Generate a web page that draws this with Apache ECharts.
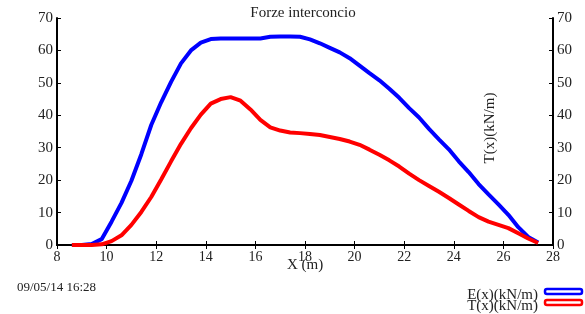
<!DOCTYPE html>
<html>
<head>
<meta charset="utf-8">
<script src="https://cdn.jsdelivr.net/npm/echarts@6/dist/echarts.min.js"></script>
<style>
  html, body { margin: 0; padding: 0; background: #fff; }
  #chart { width: 585px; height: 314px; }
</style>
</head>
<body>
<div id="chart"></div>
<script>
// positions along the wall (m)
const xs = [8.6, 9.0, 9.4, 9.8, 10.2, 10.6, 11.0, 11.4, 11.8, 12.2, 12.6, 13.0, 13.4, 13.8,
  14.2, 14.6, 15.0, 15.4, 15.8, 16.2, 16.6, 17.0, 17.4, 17.8, 18.2, 18.6, 19.0, 19.4,
  19.8, 20.2, 20.6, 21.0, 21.4, 21.8, 22.2, 22.6, 23.0, 23.4, 23.8, 24.2, 24.6, 25.0,
  25.4, 25.8, 26.2, 26.6, 27.0, 27.4]

// E(x) kN/m
const eVals = [0, 0, 0.3, 1.8, 7.2, 13, 19.8, 28, 37, 44, 50.3, 56, 60, 62.4,
  63.5, 63.7, 63.7, 63.7, 63.7, 63.7, 64.2, 64.3, 64.3, 64.2, 63.4, 62.2, 60.8, 59.4,
  57.6, 55.3, 53, 50.8, 48.2, 45.4, 42.2, 39.3, 35.8, 32.6, 29.5, 25.8, 22.5, 18.8,
  15.6, 12.5, 9.3, 5.5, 2.5, 0.8]

// T(x) kN/m
const tVals = [0, 0, 0, 0.2, 1.2, 3, 6.2, 10.2, 14.8, 20.2, 25.8, 31.2, 36, 40.2,
  43.6, 45, 45.6, 44.5, 41.8, 38.6, 36.3, 35.3, 34.7, 34.5, 34.2, 33.9, 33.3, 32.7,
  31.9, 30.9, 29.4, 27.8, 26.1, 24.2, 22, 20, 18.2, 16.4, 14.5, 12.5, 10.5, 8.6,
  7.2, 6.2, 5.2, 3.6, 2, 0.6]

const xTicks = { min: 8, max: 28, step: 2 }
const yTicks = { min: 0, max: 70, step: 10 }

const serif = 'Liberation Serif'

const chart = echarts.init(document.getElementById('chart'))

const axisLine = { show: true, lineStyle: { color: '#000', width: 2 } }
const axisTick = { show: true, inside: true, length: 4, lineStyle: { color: '#000', width: 1 } }

const makeX = (position, showLabel) => ({
  type: 'value',
  position: position,
  min: xTicks.min,
  max: xTicks.max,
  interval: xTicks.step,
  axisLine: axisLine,
  axisTick: axisTick,
  splitLine: { show: false },
  axisLabel: {
    show: showLabel,
    fontFamily: serif,
    fontSize: 14,
    color: '#222',
    margin: 5
  }
})

const makeY = (position) => ({
  type: 'value',
  position: position,
  min: yTicks.min,
  max: yTicks.max,
  interval: yTicks.step,
  axisLine: axisLine,
  axisTick: axisTick,
  splitLine: { show: false },
  axisLabel: {
    fontFamily: serif,
    fontSize: 15,
    color: '#222',
    margin: 4,
    padding: [5, 0, 0, 0]
  }
})

const option = {
  animation: false,
  grid: { left: 57, right: 32, top: 18, bottom: 69 },
  xAxis: [makeX('bottom', true), makeX('top', false)],
  yAxis: [makeY('left'), makeY('right')],
  series: [
    {
      name: 'E(x)(kN/m)',
      type: 'line',
      showSymbol: false,
      data: xs.map((x, i) => [x, eVals[i]]),
      lineStyle: { color: '#0000ff', width: 4 },
      z: 3
    },
    {
      name: 'T(x)(kN/m)',
      type: 'line',
      showSymbol: false,
      data: xs.map((x, i) => [x, tVals[i]]),
      lineStyle: { color: '#ff0000', width: 4 },
      z: 3
    }
  ],
  graphic: [
    {
      type: 'text',
      style: { x: 303, y: 13.5, text: 'Forze interconcio', font: '15px "Liberation Serif"', fill: '#222', align: 'center', verticalAlign: 'middle' },
      z: 10
    },
    {
      type: 'text',
      style: { x: 305, y: 265, text: 'X (m)', font: '15px "Liberation Serif"', fill: '#222', align: 'center', verticalAlign: 'middle' }
    },
    {
      type: 'text',
      x: 490.5,
      y: 128,
      rotation: Math.PI / 2,
      style: { x: 0, y: 0, text: 'T(x)(kN/m)', font: '15px "Liberation Serif"', fill: '#222', align: 'center', verticalAlign: 'middle' }
    },
    {
      type: 'text',
      style: { x: 17, y: 288, text: '09/05/14 16:28', font: '13px "Liberation Serif"', fill: '#222', align: 'left', verticalAlign: 'middle' }
    },
    {
      type: 'text',
      style: { x: 538, y: 295, text: 'E(x)(kN/m)', font: '15px "Liberation Serif"', fill: '#222', align: 'right', verticalAlign: 'middle' }
    },
    {
      type: 'text',
      style: { x: 538, y: 306, text: 'T(x)(kN/m)', font: '15px "Liberation Serif"', fill: '#222', align: 'right', verticalAlign: 'middle' }
    },
    {
      type: 'rect',
      shape: { x: 545, y: 289, width: 37, height: 5, r: 2 },
      style: { fill: '#fff', stroke: '#0000ff', lineWidth: 2.5 }
    },
    {
      type: 'rect',
      shape: { x: 545, y: 300, width: 37, height: 5, r: 2 },
      style: { fill: '#fff', stroke: '#ff0000', lineWidth: 2.5 }
    }
  ]
}

chart.setOption(option)
</script>
</body>
</html>
